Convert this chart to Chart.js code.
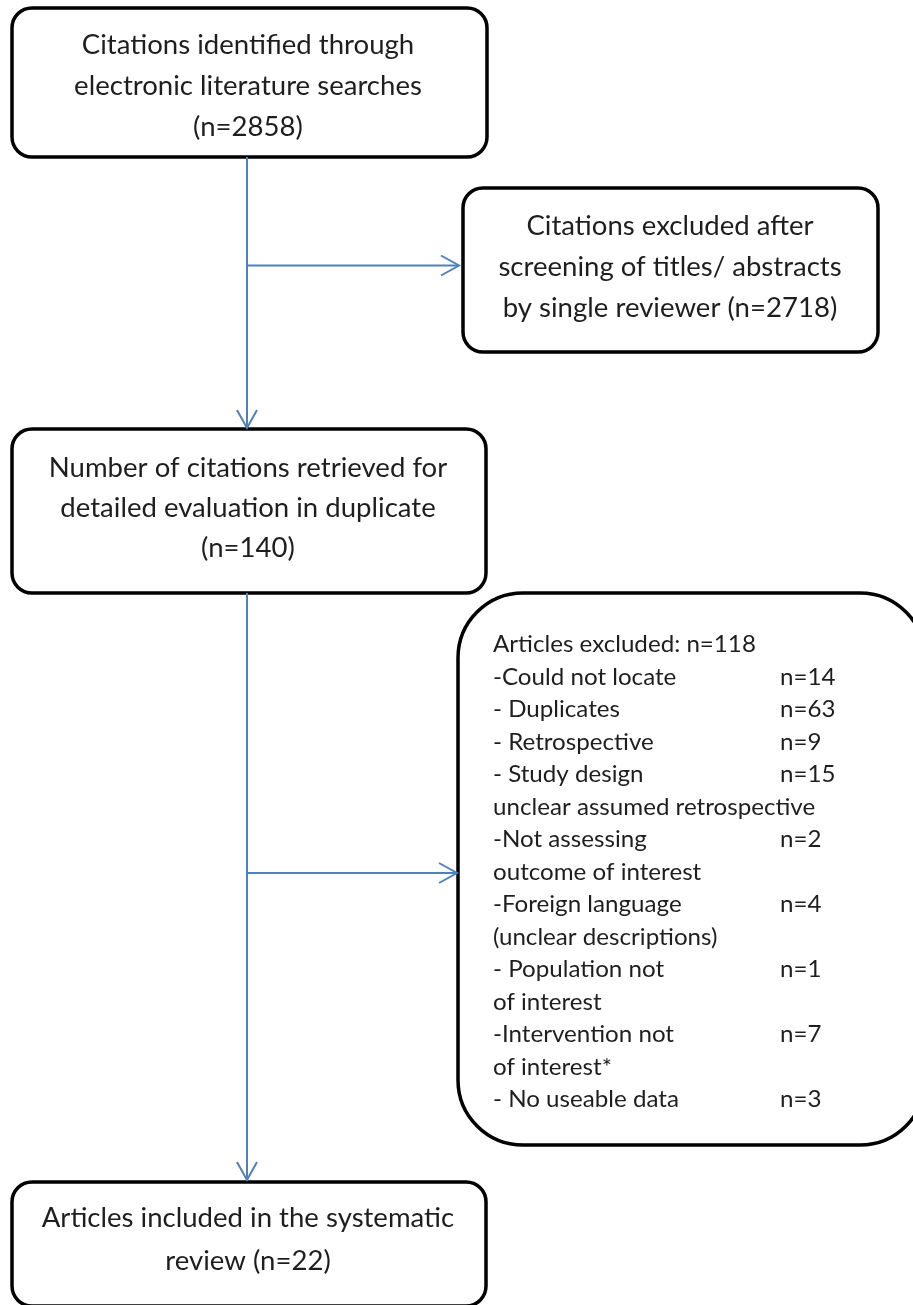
<!DOCTYPE html>
<html>
<head>
<meta charset="utf-8">
<script src="https://cdn.jsdelivr.net/npm/chart.js@4.4.0/dist/chart.umd.min.js"></script>
<style>
  html, body { margin: 0; padding: 0; background: #fff; }
  #wrap { width: 913px; height: 1305px; }
</style>
</head>
<body>
<div id="wrap"><canvas id="flowChart" width="913" height="1305"></canvas></div>
<script>
// counts for each stage of the flow
const stageCounts = [2858, 2718, 140, 118, 22];

const reasonLabels = [
    ['-Could not locate'],
    ['- Duplicates'],
    ['- Retrospective'],
    ['- Study design', 'unclear assumed retrospective'],
    ['-Not assessing', 'outcome of interest'],
    ['-Foreign language', '(unclear descriptions)'],
    ['- Population not', 'of interest'],
    ['-Intervention not', 'of interest*'],
    ['- No useable data']
];
const reasonCounts = [14, 63, 9, 15, 2, 4, 1, 7, 3];

const stageText = [
    ['Citations identified through', 'electronic literature searches', '(n=' + stageCounts[0] + ')'],
    ['Citations excluded after', 'screening of titles/ abstracts', 'by single reviewer (n=' + stageCounts[1] + ')'],
    ['Number of citations retrieved for', 'detailed evaluation in duplicate', '(n=' + stageCounts[2] + ')'],
    null,
    ['Articles included in the systematic', 'review (n=' + stageCounts[4] + ')']
];

// layout (page units, same as pixels of the picture)
const boxes = [
    { x0: 12, y0: 8, x1: 487, y1: 157, r: 20, cx: 248, base: 54, gap: 41 },
    { x0: 463, y0: 188, x1: 878, y1: 352, r: 20, cx: 670, base: 235, gap: 41 },
    { x0: 12, y0: 429, x1: 486, y1: 593, r: 20, cx: 248, base: 477, gap: 40 },
    { x0: 458, y0: 593, x1: 925, y1: 1145, r: 65, left: 493, col: 780, base: 652, gap: 32.5 },
    { x0: 12, y0: 1182, x1: 486, y1: 1306, r: 20, cx: 248, base: 1227, gap: 43 }
];

const connectors = [
    [{ x: 247, y: 157 }, { x: 247, y: 428 }],
    [{ x: 247, y: 265.5 }, { x: 459, y: 265.5 }],
    [{ x: 247, y: 593 }, { x: 247, y: 1180 }],
    [{ x: 247, y: 873 }, { x: 457, y: 873 }]
];

const FONT = 'Lato, "Open Sans", sans-serif';
const TEXT_COLOR = '#1e1e1e';
const LINE_BLUE = '#4f81bd';

function roundBox(ctx, x0, y0, x1, y1, r) {
    ctx.beginPath();
    ctx.moveTo(x0 + r, y0);
    ctx.lineTo(x1 - r, y0);
    ctx.arcTo(x1, y0, x1, y0 + r, r);
    ctx.lineTo(x1, y1 - r);
    ctx.arcTo(x1, y1, x1 - r, y1, r);
    ctx.lineTo(x0 + r, y1);
    ctx.arcTo(x0, y1, x0, y1 - r, r);
    ctx.lineTo(x0, y0 + r);
    ctx.arcTo(x0, y0, x0 + r, y0, r);
    ctx.closePath();
}

function drawLabel(ctx, str, x, y, align, size, stretch) {
    ctx.save();
    ctx.translate(x, y);
    ctx.scale(stretch, 1);
    ctx.font = size + 'px ' + FONT;
    ctx.textAlign = align;
    ctx.textBaseline = 'alphabetic';
    ctx.fillStyle = TEXT_COLOR;
    ctx.fillText(str, 0, 0);
    ctx.restore();
}

const flowBoxes = {
    id: 'flowBoxes',
    beforeDatasetsDraw(chart) {
        const ctx = chart.ctx;
        const sx = chart.scales.x, sy = chart.scales.y;
        const px = v => sx.getPixelForValue(v);
        const py = v => sy.getPixelForValue(v);

        boxes.forEach((b, i) => {
            ctx.save();
            roundBox(ctx, px(b.x0), py(b.y0), px(b.x1), py(b.y1), b.r);
            ctx.fillStyle = '#fff';
            ctx.fill();
            ctx.lineWidth = 3.5;
            ctx.strokeStyle = '#000';
            ctx.stroke();
            ctx.restore();

            if (stageText[i]) {
                stageText[i].forEach((line, k) => {
                    drawLabel(ctx, line, px(b.cx), py(b.base + k * b.gap), 'center', 26, 1.06);
                });
            } else {
                let row = 0;
                drawLabel(ctx, 'Articles excluded: n=' + stageCounts[3], px(b.left), py(b.base), 'left', 23, 1.05);
                row++;
                reasonLabels.forEach((lines, k) => {
                    lines.forEach((line, j) => {
                        const y = py(b.base + row * b.gap);
                        drawLabel(ctx, line, px(b.left), y, 'left', 23, 1.05);
                        if (j === 0) drawLabel(ctx, 'n=' + reasonCounts[k], px(b.col), y, 'left', 23, 1.05);
                        row++;
                    });
                });
            }
        });
    },
    afterDatasetsDraw(chart) {
        const ctx = chart.ctx;
        const sx = chart.scales.x, sy = chart.scales.y;
        // open arrowheads at the end of every connector
        chart.data.datasets.forEach(ds => {
            const a = ds.data[0], b = ds.data[ds.data.length - 1];
            const x1 = sx.getPixelForValue(b.x), y1 = sy.getPixelForValue(b.y);
            const x0 = sx.getPixelForValue(a.x), y0 = sy.getPixelForValue(a.y);
            const ang = Math.atan2(y1 - y0, x1 - x0);
            const len = 18, half = 10;
            ctx.save();
            ctx.strokeStyle = LINE_BLUE;
            ctx.lineWidth = 2;
            ctx.beginPath();
            ctx.moveTo(x1 - len * Math.cos(ang) + half * Math.sin(ang), y1 - len * Math.sin(ang) - half * Math.cos(ang));
            ctx.lineTo(x1, y1);
            ctx.lineTo(x1 - len * Math.cos(ang) - half * Math.sin(ang), y1 - len * Math.sin(ang) + half * Math.cos(ang));
            ctx.stroke();
            ctx.restore();
        });
    }
};

const ctx = document.getElementById('flowChart').getContext('2d');
const flowChart = new Chart(ctx, {
    type: 'scatter',
    data: {
        datasets: connectors.map(pts => ({
            type: 'line',
            data: pts,
            borderColor: LINE_BLUE,
            borderWidth: 2,
            pointRadius: 0,
            fill: false,
            tension: 0
        }))
    },
    options: {
        responsive: false,
        animation: false,
        devicePixelRatio: 1,
        events: [],
        layout: { padding: 0 },
        plugins: {
            legend: { display: false },
            tooltip: { enabled: false }
        },
        scales: {
            x: { type: 'linear', min: 0, max: 913, display: false },
            y: { type: 'linear', min: 0, max: 1305, reverse: true, display: false }
        }
    },
    plugins: [flowBoxes]
});
</script>
</body>
</html>
